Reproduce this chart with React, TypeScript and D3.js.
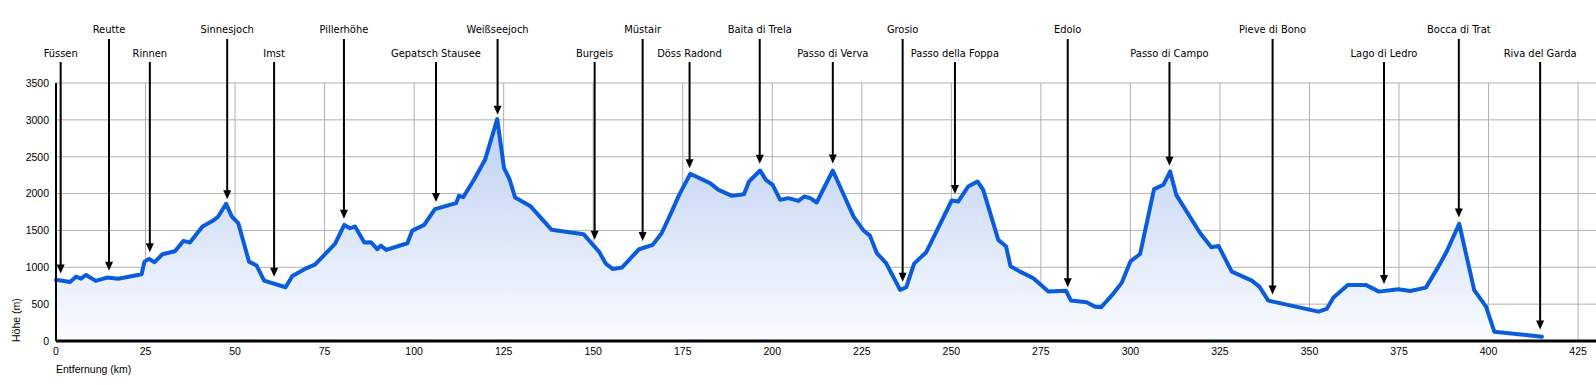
import React from "react";
import * as d3 from "d3";

const distances = [
  0, 3.9, 5.6, 7.0, 8.4, 11.1, 14.2, 17.4, 23.9, 24.7, 26.0, 27.5, 29.7, 33.2, 35.6, 37.4,
  40.9, 43.9, 45.3, 47.5, 49.1, 50.9, 53.9, 56.0, 58.1, 64.1, 66.0, 69.5, 72.3, 77.9,
  80.5, 82.1, 83.5, 86.1, 87.9, 89.7, 90.7, 92.2, 98.1, 99.5, 102.8, 105.8, 111.7, 112.5,
  113.7, 116.7, 119.8, 123.2, 125.1, 126.6, 128.2, 132.4, 138.4, 147.3, 151.6, 153.5,
  155.4, 158.0, 162.8, 166.6, 169.1, 171.5, 174.0, 177.1, 182.6, 185.0, 188.7, 192.1,
  193.5, 196.6, 198.2, 200.1, 202.2, 204.5, 207.3, 208.9, 210.6, 212.4, 216.9, 218.9,
  222.7, 225.5, 227.3, 229.2, 231.8, 235.7, 237.4, 239.6, 243.0, 250.1, 251.9, 254.7,
  257.3, 258.9, 263.1, 265.3, 266.5, 269.2, 272.9, 277.1, 282.0, 283.4, 287.8, 290.1,
  291.8, 295.3, 297.6, 300.0, 302.7, 306.6, 309.2, 311.1, 312.8, 319.5, 322.6, 324.6,
  328.3, 333.9, 336.0, 338.5, 352.5, 354.8, 356.7, 360.7, 365.7, 369.4, 374.8, 378.1,
  382.5, 386.0, 388.3, 391.8, 396.0, 399.3, 401.6, 414.9,
];
const elevations = [
  830, 800, 873, 845, 896, 815, 860, 845, 905, 1077, 1114, 1069, 1177, 1218, 1358, 1335,
  1553, 1634, 1688, 1861, 1688, 1598, 1077, 1025, 819, 729, 883, 978, 1036, 1317,
  1575, 1530, 1553, 1335, 1340, 1245, 1294, 1236, 1326, 1498, 1575, 1788, 1870, 1969,
  1951, 2187, 2458, 3011, 2345, 2200, 1946, 1833, 1508, 1449, 1213, 1050,
  978, 996, 1245, 1304, 1462, 1711, 1983, 2268, 2142, 2051, 1969, 1992,
  2164, 2313, 2187, 2119, 1915, 1938, 1901, 1960, 1938, 1879, 2313, 2096,
  1688, 1498, 1426, 1191, 1055, 693, 729, 1050, 1205, 1906, 1892, 2096,
  2164, 2051, 1372, 1281, 1015, 941, 851, 670, 683, 548, 525, 466,
  457, 647, 792, 1080, 1180, 2060, 2119, 2300, 1983, 1462, 1271, 1290,
  941, 819, 738, 548, 398, 435, 589, 761, 761, 670, 702, 679,
  724, 1009, 1213, 1590, 690, 466, 126, 58,
];

const placeNames = [
  "Füssen", "Reutte", "Rinnen", "Sinnesjoch", "Imst", "Pillerhöhe", "Gepatsch Stausee",
  "Weißseejoch", "Burgeis", "Müstair", "Döss Radond", "Baita di Trela", "Passo di Verva",
  "Grosio", "Passo della Foppa", "Edolo", "Passo di Campo", "Pieve di Bono", "Lago di Ledro",
  "Bocca di Trat", "Riva del Garda",
];
const placeKm = [
  1.3, 14.8, 26.2, 47.8, 60.9, 80.4, 106.1, 123.3, 150.4, 163.8, 176.9, 196.5, 216.9,
  236.4, 251.0, 282.5, 310.9, 339.7, 370.8, 391.7, 414.4,
];
const placeRow = [2, 1, 2, 1, 2, 1, 2, 1, 2, 1, 2, 1, 2, 1, 2, 1, 2, 1, 2, 1, 2];

const xTicks = [0, 25, 50, 75, 100, 125, 150, 175, 200, 225, 250, 275, 300, 325, 350, 375, 400, 425];
const yTicks = [0, 500, 1000, 1500, 2000, 2500, 3000, 3500];

const W = 1596;
const H = 385;
const left = 56;
const top = 83;
const bottom = 341;

export default function App() {
  const x = d3.scaleLinear().domain([0, 430]).range([left, W]);
  const y = d3.scaleLinear().domain([0, 3500]).range([bottom, top]);
  const pts: [number, number][] = distances.map((d, i) => [d, elevations[i]]);
  const line = d3.line<[number, number]>().x((d) => x(d[0])).y((d) => y(d[1]));
  const area = d3
    .area<[number, number]>()
    .x((d) => x(d[0]))
    .y0(y(0))
    .y1((d) => y(d[1]));
  const interp = (km: number) => {
    for (let i = 0; i < distances.length - 1; i++) {
      if (km >= distances[i] && km <= distances[i + 1]) {
        const t = (km - distances[i]) / (distances[i + 1] - distances[i]);
        return elevations[i] + t * (elevations[i + 1] - elevations[i]);
      }
    }
    return elevations[elevations.length - 1];
  };
  const labelFont = "'DejaVu Sans Condensed', 'DejaVu Sans', sans-serif";
  const axisFont = "'Liberation Sans', Arial, sans-serif";
  return (
    <svg
      width={W}
      height={H}
      style={{ position: "absolute", left: 0, top: 0, background: "#fff" }}
    >
      <defs>
        <linearGradient id="fillGrad" gradientUnits="userSpaceOnUse" x1="0" y1={top} x2="0" y2={bottom}>
          <stop offset="0" stopColor="#b3c8ef" />
          <stop offset="1" stopColor="#fafcff" />
        </linearGradient>
      </defs>
      {xTicks.map((t) => (
        <line key={"gx" + t} x1={x(t)} x2={x(t)} y1={top} y2={bottom} stroke="#b0b0b0" strokeWidth={1} />
      ))}
      {yTicks.map((t) => (
        <line key={"gy" + t} x1={left} x2={W} y1={y(t)} y2={y(t)} stroke="#b0b0b0" strokeWidth={1} />
      ))}
      <path d={area(pts) || ""} fill="url(#fillGrad)" />
      <path d={line(pts) || ""} fill="none" stroke="#0b5cdb" strokeWidth={4} strokeLinejoin="round" strokeLinecap="round" />
      <line x1={left} x2={left} y1={top} y2={bottom} stroke="#000" strokeWidth={2} />
      <line x1={left} x2={W} y1={bottom} y2={bottom} stroke="#000" strokeWidth={3} />
      {xTicks.map((t) => (
        <text key={"tx" + t} x={x(t)} y={355} textAnchor="middle" fontSize={10.5} fontFamily={axisFont} fill="#000">
          {t}
        </text>
      ))}
      {yTicks.map((t) => (
        <text key={"ty" + t} x={49} y={y(t) + 3.8} textAnchor="end" fontSize={10.5} fontFamily={axisFont} fill="#000">
          {t}
        </text>
      ))}
      <text x={56} y={373} fontSize={10.5} fontFamily={axisFont} fill="#000">
        Entfernung (km)
      </text>
      <text transform={`translate(20, 342) rotate(-90)`} fontSize={10.5} fontFamily={axisFont} fill="#000">
        Höhe (m)
      </text>
      {placeNames.map((name, i) => {
        const px = x(placeKm[i]);
        const tip = y(interp(placeKm[i])) - 7;
        const startY = placeRow[i] === 1 ? 39 : 62;
        const textY = placeRow[i] === 1 ? 33.3 : 56.5;
        return (
          <g key={name}>
            <text
              x={px}
              y={textY}
              textAnchor="middle"
              fontSize={11}
              fontFamily={labelFont}
              style={{ fontStretch: "condensed" }}
              fill="#000"
            >
              {name}
            </text>
            <line x1={px} x2={px} y1={startY} y2={tip - 8} stroke="#000" strokeWidth={2} />
            <path d={`M${px - 4},${tip - 9} L${px + 4},${tip - 9} L${px},${tip} Z`} fill="#000" />
          </g>
        );
      })}
    </svg>
  );
}
